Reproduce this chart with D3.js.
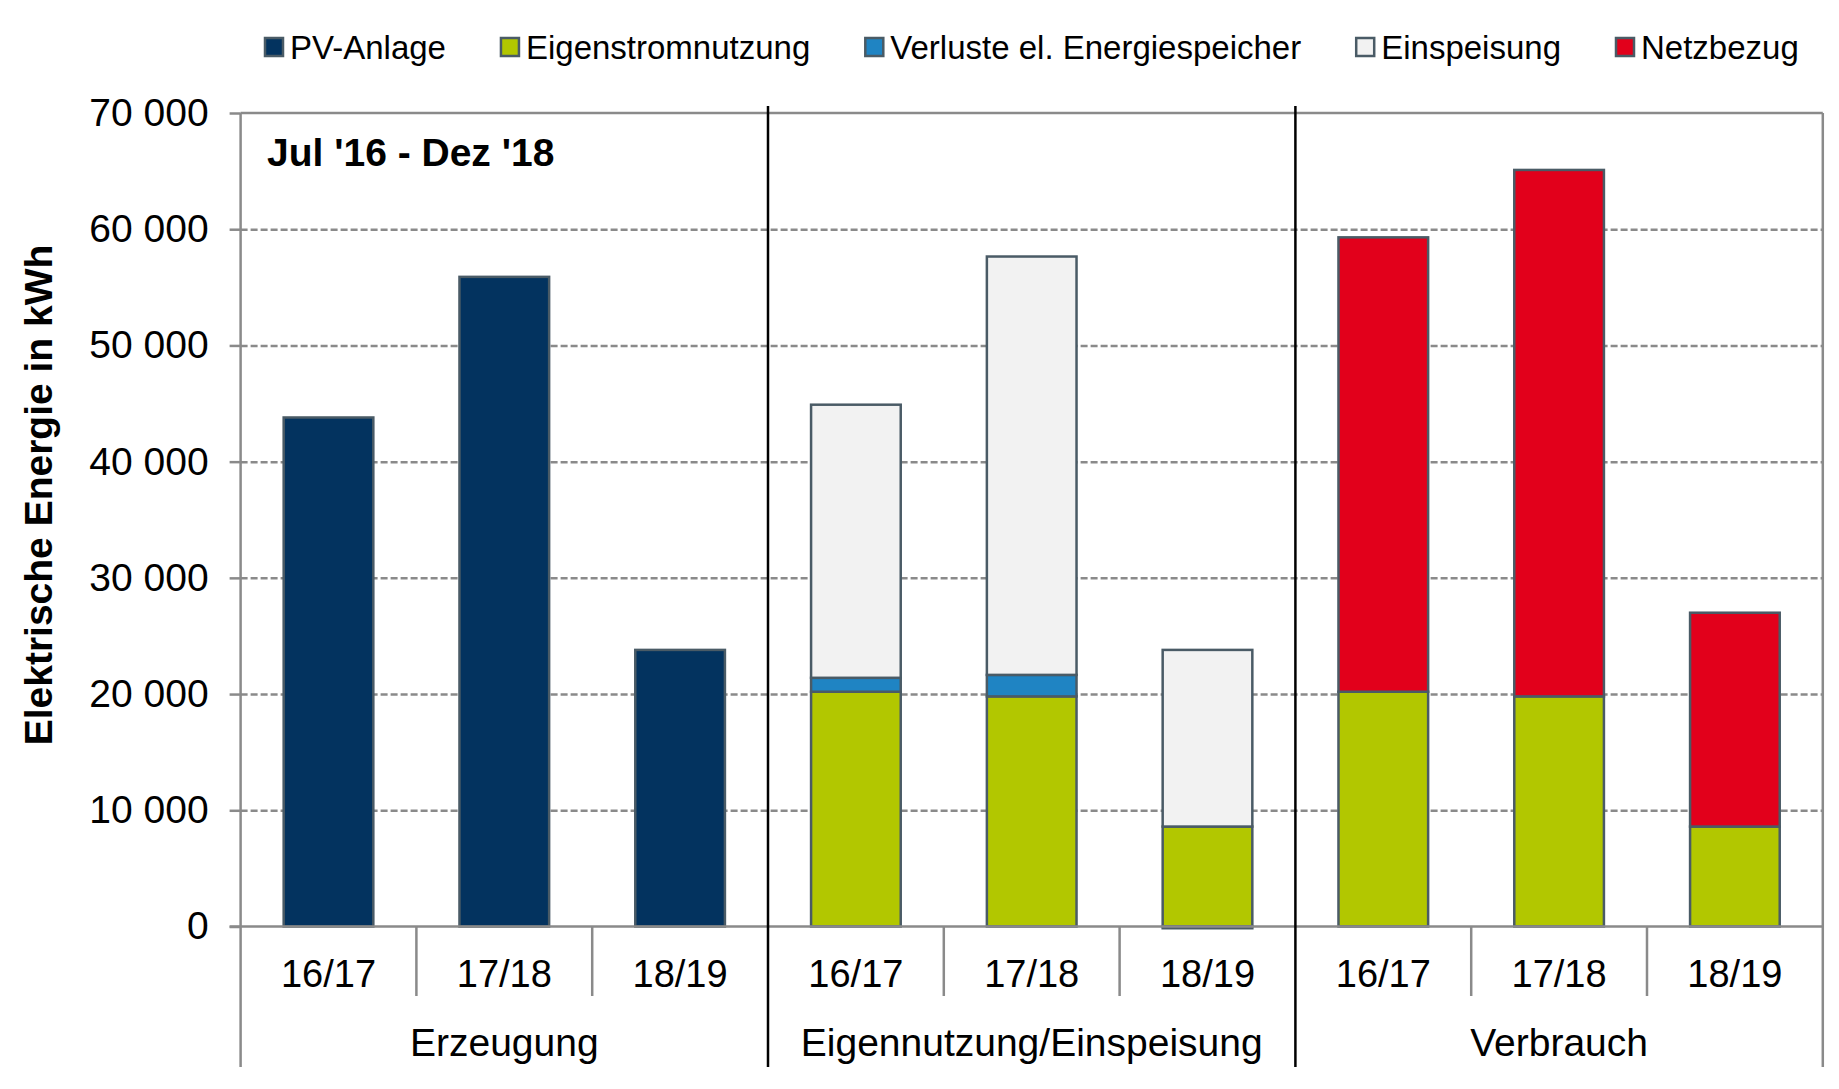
<!DOCTYPE html>
<html>
<head>
<meta charset="utf-8">
<script src="https://cdn.jsdelivr.net/npm/d3@7"></script>
<style>
  body { margin: 0; background: #fff; }
  svg text { font-family: Arial, "Liberation Sans", sans-serif; fill: #000; }
</style>
</head>
<body>
<div id="container"></div>
<script>
// chart data
const groups = ['Erzeugung', 'Eigennutzung/Einspeisung', 'Verbrauch'];
const periods = ['16/17', '17/18', '18/19'];
const seriesNames = ['PV-Anlage', 'Eigenstromnutzung', 'Verluste el. Energiespeicher', 'Einspeisung', 'Netzbezug'];
const seriesColors = ['#03335f', '#b2c700', '#1f84c3', '#f2f2f2', '#e2001b'];

// values per category: 3 periods x 3 groups
const pvAnlage       = [43800, 55900, 23800,     0,     0,     0,     0,     0,     0];
const eigenstrom     = [    0,     0,     0, 20200, 19800,  8600, 20200, 19800,  8600];
const verluste       = [    0,     0,     0,  1200,  1850,  -150,     0,     0,     0];
const einspeisung    = [    0,     0,     0, 23500, 36000, 15200,     0,     0,     0];
const netzbezug      = [    0,     0,     0,     0,     0,     0, 39100, 45300, 18400];

const yTicks = [0, 10000, 20000, 30000, 40000, 50000, 60000, 70000];
const title = "Jul '16 - Dez '18";
const yLabel = 'Elektrische Energie in kWh';

const width = 1839, height = 1089;
const plotLeft = 240.6, plotRight = 1822.8, plotTop = 113, plotZero = 926.5;
const bottomLine = 1067;
const fontSize = 39;

const svg = d3.select('#container')
  .append('svg')
  .attr('width', width)
  .attr('height', height);

const categories = [];
groups.forEach(g => periods.forEach(p => categories.push(g + '|' + p)));

const rows = categories.map((c, i) => ({
  cat: c,
  'PV-Anlage': pvAnlage[i],
  'Eigenstromnutzung': eigenstrom[i],
  'Verluste el. Energiespeicher': verluste[i],
  'Einspeisung': einspeisung[i],
  'Netzbezug': netzbezug[i]
}));

const xScale = d3.scaleBand().domain(categories).range([plotLeft, plotRight]).padding(0);
const yScale = d3.scaleLinear().domain([0, 70000]).range([plotZero, plotTop]);
const color = d3.scaleOrdinal().domain(seriesNames).range(seriesColors);

const barW = xScale.bandwidth() * 0.51;

const locale = d3.formatLocale({ decimal: ',', thousands: ' ', grouping: [3] });
const fmt = locale.format(',d');

// gridlines
svg.append('g')
  .attr('transform', `translate(${plotLeft},0)`)
  .call(d3.axisLeft(yScale).tickValues(yTicks.filter(t => t > 0 && t < 70000)).tickSize(-(plotRight - plotLeft)).tickFormat(''))
  .call(g => g.select('.domain').remove())
  .call(g => g.selectAll('line')
    .attr('stroke', '#8a8a8a')
    .attr('stroke-width', 2.5)
    .attr('stroke-dasharray', '7,3'));

// y axis
svg.append('g')
  .attr('transform', `translate(${plotLeft},0)`)
  .call(d3.axisLeft(yScale).tickValues(yTicks).tickSize(11).tickPadding(21).tickFormat(fmt))
  .call(g => g.select('.domain').remove())
  .call(g => g.selectAll('line').attr('stroke', '#8a8a8a').attr('stroke-width', 2.5))
  .call(g => g.selectAll('text')
    .attr('font-size', fontSize)
    .attr('font-family', 'Arial, "Liberation Sans", sans-serif')
    .attr('fill', '#000'));

// stacked bars
const stack = d3.stack().keys(seriesNames).offset(d3.stackOffsetDiverging);
const stacked = stack(rows);

svg.append('g')
  .selectAll('g')
  .data(stacked)
  .join('g')
  .attr('fill', d => color(d.key))
  .selectAll('rect')
  .data(d => d.filter(s => s[1] - s[0] !== 0))
  .join('rect')
  .attr('x', d => xScale(d.data.cat) + (xScale.bandwidth() - barW) / 2)
  .attr('y', d => yScale(Math.max(d[0], d[1])))
  .attr('width', barW)
  .attr('height', d => Math.abs(yScale(d[0]) - yScale(d[1])))
  .attr('stroke', '#4a5b66')
  .attr('stroke-width', 2.5);

// frame
const frame = svg.append('g').attr('stroke', '#8a8a8a').attr('stroke-width', 2.5).attr('fill', 'none');
frame.append('line').attr('x1', plotLeft).attr('x2', plotRight).attr('y1', plotTop).attr('y2', plotTop);
frame.append('line').attr('x1', plotLeft).attr('x2', plotLeft).attr('y1', plotTop).attr('y2', bottomLine);
frame.append('line').attr('x1', plotRight).attr('x2', plotRight).attr('y1', plotTop).attr('y2', bottomLine);
frame.append('line').attr('x1', plotLeft - 11).attr('x2', plotRight).attr('y1', yScale(0)).attr('y2', yScale(0));

// category ticks below axis
categories.forEach((c, i) => {
  if (i === 0 || i % 3 === 0) return;
  frame.append('line')
    .attr('x1', xScale(c)).attr('x2', xScale(c))
    .attr('y1', yScale(0)).attr('y2', 996);
});

// group separators
groups.forEach((g, gi) => {
  if (gi === 0) return;
  const x = xScale(g + '|' + periods[0]);
  svg.append('line')
    .attr('x1', x).attr('x2', x)
    .attr('y1', 106).attr('y2', bottomLine)
    .attr('stroke', '#000')
    .attr('stroke-width', 2.5);
});

// category labels
svg.append('g')
  .selectAll('text')
  .data(categories)
  .join('text')
  .attr('x', d => xScale(d) + xScale.bandwidth() / 2)
  .attr('y', 987)
  .attr('text-anchor', 'middle')
  .attr('font-size', 38)
  .text(d => d.split('|')[1]);

// group labels
svg.append('g')
  .selectAll('text')
  .data(groups)
  .join('text')
  .attr('x', g => xScale(g + '|' + periods[1]) + xScale.bandwidth() / 2)
  .attr('y', 1056)
  .attr('text-anchor', 'middle')
  .attr('font-size', fontSize)
  .text(g => g);

// title in plot
svg.append('text')
  .attr('x', 267)
  .attr('y', 166)
  .attr('font-size', fontSize)
  .attr('font-weight', 'bold')
  .text(title);

// y label
svg.append('text')
  .attr('transform', 'translate(52,495) rotate(-90)')
  .attr('text-anchor', 'middle')
  .attr('font-size', fontSize)
  .attr('font-weight', 'bold')
  .text(yLabel);

// legend
const legend = svg.append('g');
let lx = 265;
seriesNames.forEach((name, i) => {
  const item = legend.append('g');
  item.append('rect')
    .attr('x', lx).attr('y', 38)
    .attr('width', 18).attr('height', 18)
    .attr('fill', seriesColors[i])
    .attr('stroke', '#4a5b66')
    .attr('stroke-width', 2.5);
  const t = item.append('text')
    .attr('x', lx + 25)
    .attr('y', 59)
    .attr('font-size', 33)
    .text(name);
  lx = lx + 25 + t.node().getComputedTextLength() + 55;
});
</script>
</body>
</html>
